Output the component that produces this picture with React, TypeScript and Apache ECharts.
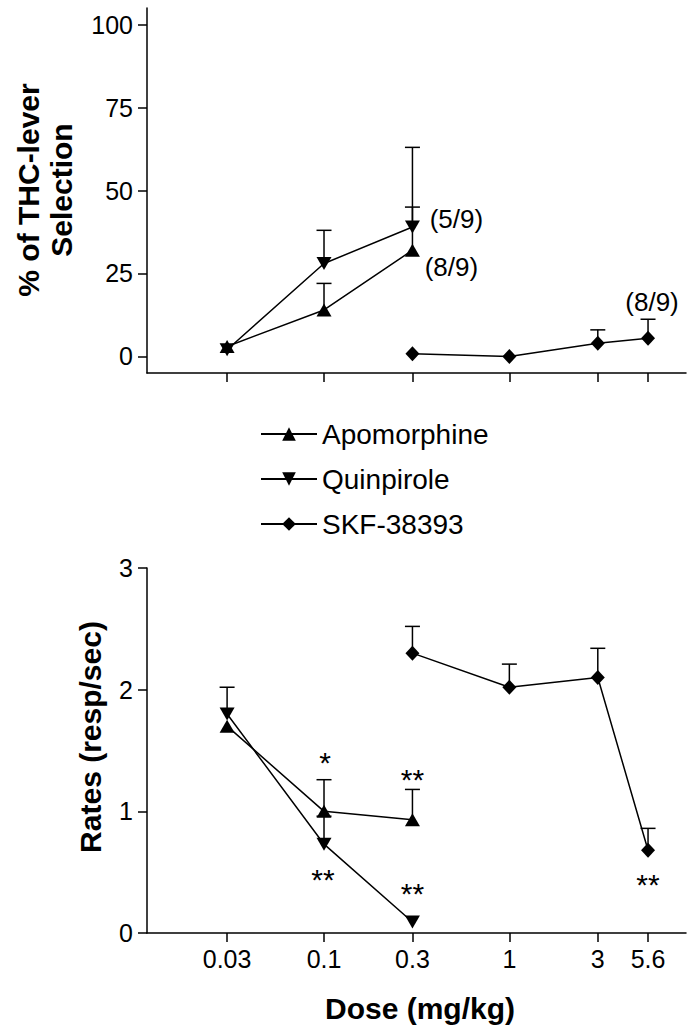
import React, { useEffect, useRef } from "react";
import * as echarts from "echarts";

// ---------- data ----------
const DOSE_TICKS = [0.03, 0.1, 0.3, 1, 3, 5.6];
const DOSE_TICK_LABELS = ["0.03", "0.1", "0.3", "1", "3", "5.6"];
const THC_TICKS = [0, 25, 50, 75, 100];
const RATE_TICKS = [0, 1, 2, 3];

const DA_DOSES = [0.03, 0.1, 0.3]; // apomorphine & quinpirole
const SKF_DOSES = [0.3, 1, 3, 5.6];

const APO_THC = [3, 14, 32];
const APO_THC_SEM = [0, 8, 13];
const QUIN_THC = [2, 28, 39];
const QUIN_THC_SEM = [0, 10, 24];
const SKF_THC = [0.8, 0, 4, 5.5];
const SKF_THC_SEM = [0, 0, 4, 5.7];

const APO_RATE = [1.7, 1.0, 0.93];
const APO_RATE_SEM = [0, 0.26, 0.25];
const QUIN_RATE = [1.8, 0.73, 0.09];
const QUIN_RATE_SEM = [0.22, 0.23, 0];
const SKF_RATE = [2.3, 2.02, 2.1, 0.68];
const SKF_RATE_SEM = [0.22, 0.19, 0.24, 0.18];

const SERIES_NAMES = ["Apomorphine", "Quinpirole", "SKF-38393"];

// annotations anchored at data points
const TOP_NOTES = [
  { dose: 0.3, value: 39, text: "(5/9)" },
  { dose: 0.3, value: 32, text: "(8/9)" },
  { dose: 5.6, value: 5.5, text: "(8/9)" },
];
const BOTTOM_NOTES = [
  { dose: 0.1, value: 1.0, text: "*" },
  { dose: 0.1, value: 0.73, text: "**" },
  { dose: 0.3, value: 0.93, text: "**" },
  { dose: 0.3, value: 0.09, text: "**" },
  { dose: 5.6, value: 0.68, text: "**" },
];

// ---------- layout / style ----------
const TOP_NOTE_OFFSETS = [
  [44, -8],
  [39, 17],
  [4, -36],
];
const BOTTOM_NOTE_OFFSETS = [
  [1, -49],
  [-1, 35],
  [0, -40],
  [0, -29],
  [0, 34],
];
const FONT = "'Liberation Sans', Arial, Helvetica, sans-serif";
const X_MIN = -1.955;
const X_MAX = 0.953;

const lx = (d: number) => Math.log10(d);

function lineSeries(name: string, doses: number[], vals: number[], idx: number, symbol: string, rotate: number, size: any) {
  return {
    type: "line",
    name,
    xAxisIndex: idx,
    yAxisIndex: idx,
    data: doses.map((d, i) => [lx(d), vals[i]]),
    symbol,
    symbolRotate: rotate,
    symbolSize: size,
    showAllSymbol: true,
    lineStyle: { color: "#000", width: 1.5 },
    itemStyle: { color: "#000" },
    z: 3,
  };
}

function errSeries(doses: number[], vals: number[], sem: number[], idx: number) {
  return {
    type: "custom",
    xAxisIndex: idx,
    yAxisIndex: idx,
    silent: true,
    clip: false,
    z: 2,
    data: doses.map((d, i) => [lx(d), vals[i], sem[i]]).filter((r) => r[2] > 0),
    renderItem: (params: any, api: any) => {
      const x = api.value(0);
      const y = api.value(1);
      const e = api.value(2);
      const p0 = api.coord([x, y]);
      const p1 = api.coord([x, y + e]);
      const st = { stroke: "#000", lineWidth: 1.5 };
      return {
        type: "group",
        children: [
          { type: "line", shape: { x1: p0[0], y1: p0[1], x2: p1[0], y2: p1[1] }, style: st },
          { type: "line", shape: { x1: p1[0] - 7.5, y1: p1[1], x2: p1[0] + 7.5, y2: p1[1] }, style: st },
        ],
      };
    },
  };
}

function noteSeries(notes: { dose: number; value: number; text: string }[], offsets: number[][], idx: number, fontSize: number) {
  return {
    type: "custom",
    xAxisIndex: idx,
    yAxisIndex: idx,
    silent: true,
    clip: false,
    z: 4,
    data: notes.map((n, i) => [lx(n.dose), n.value, i]),
    renderItem: (params: any, api: any) => {
      const i = api.value(2);
      const p = api.coord([api.value(0), api.value(1)]);
      return {
        type: "text",
        x: p[0] + offsets[i][0],
        y: p[1] + offsets[i][1],
        style: {
          text: notes[i].text,
          fontSize,
          fontFamily: FONT,
          fill: "#000",
          align: "center",
          verticalAlign: "middle",
        },
      };
    },
  };
}

function xAxis(idx: number, showLabels: boolean) {
  return {
    type: "value",
    gridIndex: idx,
    min: X_MIN,
    max: X_MAX,
    axisLine: { show: true, onZero: false, lineStyle: { color: "#000", width: 1.5 } },
    axisTick: {
      show: true,
      length: 9,
      lineStyle: { color: "#000", width: 1.5 },
      customValues: DOSE_TICKS.map(lx),
    },
    axisLabel: {
      show: showLabels,
      customValues: DOSE_TICKS.map(lx),
      margin: 13,
      color: "#000",
      fontSize: 25,
      fontFamily: FONT,
      formatter: (v: number) => {
        let best = 0;
        DOSE_TICKS.forEach((d, i) => {
          if (Math.abs(lx(d) - v) < Math.abs(lx(DOSE_TICKS[best]) - v)) best = i;
        });
        return DOSE_TICK_LABELS[best];
      },
    },
    splitLine: { show: false },
  };
}

function yAxis(idx: number, min: number, max: number, ticks: number[]) {
  return {
    type: "value",
    gridIndex: idx,
    min,
    max,
    axisLine: { show: true, onZero: false, lineStyle: { color: "#000", width: 1.5 } },
    axisTick: { show: true, length: 9, lineStyle: { color: "#000", width: 1.5 }, customValues: ticks },
    axisLabel: {
      customValues: ticks,
      margin: 14,
      color: "#000",
      fontSize: 25,
      fontFamily: FONT,
    },
    splitLine: { show: false },
  };
}

export default function App() {
  const ref = useRef<HTMLDivElement>(null);
  useEffect(() => {
    if (!ref.current) return;
    const chart = echarts.init(ref.current, undefined, { renderer: "svg" });
    const TRI = [15, 13];
    const DIA = [14, 15];
    chart.setOption({
      animation: false,
      backgroundColor: "#fff",
      grid: [
        { left: 147, top: 8, width: 539, height: 365 },
        { left: 147, top: 568, width: 539, height: 365 },
      ],
      xAxis: [xAxis(0, false), xAxis(1, true)],
      yAxis: [yAxis(0, -5, 105, THC_TICKS), yAxis(1, 0, 3, RATE_TICKS)],
      legend: {
        orient: "vertical",
        left: 260,
        top: 420,
        padding: 0,
        itemWidth: 56,
        itemHeight: 17,
        itemGap: 17,
        data: SERIES_NAMES,
        textStyle: { fontSize: 28, fontFamily: FONT, color: "#000" },
        selectedMode: false,
      },
      graphic: [
        {
          type: "text",
          x: 28,
          y: 190,
          rotation: Math.PI / 2,
          style: { text: "% of THC-lever", font: `bold 30px ${FONT}`, fill: "#000", align: "center", verticalAlign: "middle" },
        },
        {
          type: "text",
          x: 61,
          y: 190,
          rotation: Math.PI / 2,
          style: { text: "Selection", font: `bold 30px ${FONT}`, fill: "#000", align: "center", verticalAlign: "middle" },
        },
        {
          type: "text",
          x: 90,
          y: 737,
          rotation: Math.PI / 2,
          style: { text: "Rates (resp/sec)", font: `bold 30px ${FONT}`, fill: "#000", align: "center", verticalAlign: "middle" },
        },
        {
          type: "text",
          x: 420,
          y: 1008,
          style: { text: "Dose (mg/kg)", font: `bold 30px ${FONT}`, fill: "#000", align: "center", verticalAlign: "middle" },
        },
      ],
      series: [
        errSeries(DA_DOSES, APO_THC, APO_THC_SEM, 0),
        errSeries(DA_DOSES, QUIN_THC, QUIN_THC_SEM, 0),
        errSeries(SKF_DOSES, SKF_THC, SKF_THC_SEM, 0),
        errSeries(DA_DOSES, APO_RATE, APO_RATE_SEM, 1),
        errSeries(DA_DOSES, QUIN_RATE, QUIN_RATE_SEM, 1),
        errSeries(SKF_DOSES, SKF_RATE, SKF_RATE_SEM, 1),
        lineSeries(SERIES_NAMES[0], DA_DOSES, APO_THC, 0, "triangle", 0, TRI),
        lineSeries(SERIES_NAMES[1], DA_DOSES, QUIN_THC, 0, "triangle", 180, TRI),
        lineSeries(SERIES_NAMES[2], SKF_DOSES, SKF_THC, 0, "diamond", 0, DIA),
        lineSeries(SERIES_NAMES[0], DA_DOSES, APO_RATE, 1, "triangle", 0, TRI),
        lineSeries(SERIES_NAMES[1], DA_DOSES, QUIN_RATE, 1, "triangle", 180, TRI),
        lineSeries(SERIES_NAMES[2], SKF_DOSES, SKF_RATE, 1, "diamond", 0, DIA),
        noteSeries(TOP_NOTES, TOP_NOTE_OFFSETS, 0, 26),
        noteSeries(BOTTOM_NOTES, BOTTOM_NOTE_OFFSETS, 1, 30),
      ],
    });
    return () => chart.dispose();
  }, []);
  return (
    <div
      ref={ref}
      style={{ position: "absolute", left: 0, top: 0, width: 687, height: 1026, background: "#fff" }}
    />
  );
}
